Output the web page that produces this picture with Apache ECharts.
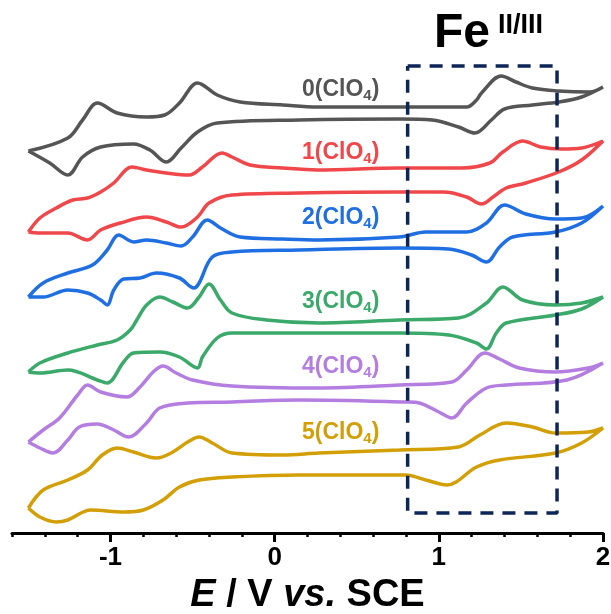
<!DOCTYPE html>
<html>
<head>
<meta charset="utf-8">
<script src="https://cdn.jsdelivr.net/npm/echarts@6/dist/echarts.min.js"></script>
<style>html,body{margin:0;padding:0;background:#fff}#c{width:611px;height:614px}</style>
</head>
<body>
<div id="c"></div>
<script>
// Potential window and ticks (V vs. SCE)
const xMin = -1.6, xMax = 2.0;
const majorTicks = [-1, 0, 1, 2];
// Compound labels
const compoundNames = ['0', '1', '2', '3', '4', '5'];
const colors = ['#555555', '#f0474a', '#1f6fe3', '#3aa96a', '#b47de0', '#d39f06'];
// Fe(II/III) box (E range, offset-current range)
const boxE = [0.81, 1.72];
const boxI = [20, 467];

// CV traces: [E (V), offset current (arb.)]
const cv0 = [[-1.50,382],[-1.26,395],[-1.17,413],[-1.08,430],[-0.96,420],[-0.78,416],[-0.67,418],[-0.58,430],[-0.47,450],[-0.35,438],[-0.21,431],[0.05,428],[0.26,426],[0.76,426],[1.17,426],[1.23,433],[1.26,440],[1.38,457],[1.47,451],[1.57,445],[1.73,442],[1.92,441],[2.00,446],
  [1.87,436],[1.73,431],[1.57,428],[1.40,424],[1.32,413],[1.22,400],[1.12,406],[0.96,413],[0.76,414],[0.15,413],[-0.35,410],[-0.47,401],[-0.57,385],[-0.66,371],[-0.76,383],[-0.86,389],[-1.06,386],[-1.17,376],[-1.26,358],[-1.37,370],[-1.50,382]];
const cv1 = [[-1.50,301],[-1.43,315],[-1.33,325],[-1.23,333],[-1.14,335],[-1.06,341],[-0.98,350],[-0.87,366],[-0.78,363],[-0.66,360],[-0.52,358],[-0.44,366],[-0.32,380],[-0.26,376],[-0.15,368],[0.05,365],[0.26,363],[0.76,365],[1.14,365],[1.31,370],[1.39,381],[1.51,392],[1.62,386],[1.75,384],[1.87,385],[2.00,392],
  [1.87,373],[1.73,361],[1.53,350],[1.41,345],[1.33,336],[1.26,329],[1.17,336],[1.03,341],[0.76,341],[0.15,340],[-0.26,338],[-0.40,330],[-0.47,316],[-0.57,306],[-0.66,311],[-0.78,316],[-0.94,310],[-1.06,303],[-1.14,293],[-1.26,300],[-1.43,300],[-1.50,301]];
const cv2 = [[-1.50,236],[-1.41,250],[-1.26,260],[-1.11,268],[-1.02,283],[-0.95,298],[-0.86,291],[-0.78,293],[-0.66,290],[-0.57,287],[-0.50,296],[-0.41,313],[-0.33,305],[-0.21,296],[0.05,294],[0.27,293],[0.76,296],[0.92,301],[1.17,301],[1.29,310],[1.40,328],[1.53,319],[1.71,314],[1.87,315],[2.00,327],
  [1.87,310],[1.71,301],[1.45,296],[1.37,286],[1.29,271],[1.20,278],[1.06,284],[0.76,285],[0.15,283],[-0.26,281],[-0.38,276],[-0.46,250],[-0.49,245],[-0.58,255],[-0.72,260],[-0.82,255],[-0.92,254],[-0.98,243],[-1.02,228],[-1.06,233],[-1.14,240],[-1.26,243],[-1.41,236],[-1.50,236]];
const cv3 = [[-1.50,161],[-1.43,170],[-1.26,180],[-1.08,188],[-0.96,193],[-0.88,203],[-0.84,213],[-0.78,228],[-0.70,236],[-0.62,231],[-0.53,225],[-0.46,236],[-0.40,249],[-0.33,233],[-0.26,220],[-0.05,213],[0.27,210],[0.76,213],[1.12,215],[1.29,230],[1.39,246],[1.51,233],[1.71,228],[1.87,230],[2.00,236],
  [1.87,224],[1.71,218],[1.41,210],[1.35,200],[1.29,184],[1.23,190],[1.06,198],[0.76,200],[0.15,200],[-0.26,200],[-0.35,195],[-0.44,176],[-0.47,165],[-0.58,176],[-0.70,181],[-0.86,180],[-0.92,171],[-1.02,150],[-1.08,153],[-1.26,163],[-1.43,160],[-1.50,161]];
const cv4 = [[-1.50,91],[-1.41,103],[-1.31,115],[-1.20,138],[-1.14,148],[-1.06,141],[-0.90,136],[-0.82,146],[-0.74,161],[-0.68,167],[-0.60,160],[-0.50,153],[-0.26,147],[0.27,145],[0.76,148],[1.08,151],[1.17,163],[1.28,180],[1.37,174],[1.49,165],[1.71,161],[1.91,165],[2.00,170],
  [1.78,153],[1.41,148],[1.29,145],[1.17,130],[1.08,115],[1.00,121],[0.88,130],[0.80,131],[0.15,133],[-0.26,131],[-0.53,130],[-0.70,125],[-0.78,110],[-0.89,96],[-0.98,103],[-1.08,109],[-1.19,106],[-1.26,93],[-1.35,80],[-1.43,85],[-1.50,91]];
const cv5 = [[-1.50,25],[-1.41,43],[-1.26,53],[-1.14,63],[-1.05,78],[-0.96,85],[-0.86,81],[-0.72,75],[-0.62,81],[-0.53,91],[-0.46,96],[-0.38,90],[-0.26,80],[0.05,78],[0.27,80],[0.76,83],[1.12,86],[1.25,98],[1.41,110],[1.57,106],[1.71,100],[1.91,101],[2.00,105],
  [1.87,90],[1.71,80],[1.37,73],[1.23,66],[1.05,48],[0.92,53],[0.80,58],[0.15,58],[-0.26,56],[-0.46,53],[-0.58,46],[-0.68,33],[-0.80,23],[-0.92,21],[-1.12,23],[-1.26,13],[-1.33,11],[-1.43,16],[-1.50,25]];
const traces = [cv0, cv1, cv2, cv3, cv4, cv5];

const FONT = "'Liberation Sans', Arial, sans-serif";
const chart = echarts.init(document.getElementById('c'), null, {renderer: 'canvas'});

const labelY = [90, 153, 218, 302, 367, 433];
const graphics = compoundNames.map((n, i) => ({
  type: 'text', x: 302, y: labelY[i],
  style: {
    text: '{m|' + n + '(ClO}{s|4}{m|)}',
    verticalAlign: 'middle', align: 'left',
    rich: {
      m: {fontSize: 23, fontWeight: 'bold', fontFamily: FONT, fill: colors[i], lineHeight: 26},
      s: {fontSize: 15, fontWeight: 'bold', fontFamily: FONT, fill: colors[i], lineHeight: 10, verticalAlign: 'bottom'}
    }
  }
}));
graphics.push({type: 'text', x: 434, y: 34, style: {text: 'Fe', font: 'bold 48px ' + FONT, fill: '#000', verticalAlign: 'middle', align: 'left'}});
graphics.push({type: 'text', x: 498, y: 26, style: {text: 'II/III', font: 'bold 27px ' + FONT, fill: '#000', verticalAlign: 'middle', align: 'left'}});

const series = traces.map((d, i) => ({
  type: 'line', data: d, xAxisIndex: 0, yAxisIndex: 0,
  smooth: 0.35, showSymbol: false, symbol: 'none', silent: true,
  lineStyle: {color: colors[i], width: 3.5}
}));
series.push({
  type: 'line', xAxisIndex: 0, yAxisIndex: 0, symbol: 'none', silent: true,
  data: [[boxE[0], boxI[1]], [boxE[1], boxI[1]], [boxE[1], boxI[0]], [boxE[0], boxI[0]], [boxE[0], boxI[1]]],
  lineStyle: {color: '#0d2557', width: 3.5, type: [13, 9]}
});

chart.setOption({
  animation: false,
  backgroundColor: '#fff',
  grid: {left: 12, right: 8, top: 0, bottom: 81, containLabel: false, outerBoundsMode: 'none'},
  xAxis: [
    {type: 'value', min: xMin, max: xMax, interval: 0.2, position: 'bottom',
     axisLine: {show: true, lineStyle: {color: '#000', width: 3}},
     axisTick: {show: true, length: 4, lineStyle: {color: '#000', width: 2.5}},
     axisLabel: {show: false}, splitLine: {show: false}},
    {type: 'value', min: xMin, max: xMax, position: 'bottom', offset: 0,
     axisLine: {show: false},
     axisTick: {show: true, customValues: majorTicks, length: 9, lineStyle: {color: '#000', width: 3}},
     axisLabel: {show: true, customValues: majorTicks, margin: 12, fontSize: 26, fontWeight: 'bold', fontFamily: FONT, color: '#000',
       formatter: v => String(v)},
     splitLine: {show: false},
     name: '{i|E}{n| / V }{i|vs.}{n| SCE}', nameLocation: 'middle', nameGap: 44,
     nameTextStyle: {rich: {
       i: {fontSize: 38, fontWeight: 'bold', fontStyle: 'italic', fontFamily: FONT, color: '#000'},
       n: {fontSize: 38, fontWeight: 'bold', fontFamily: FONT, color: '#000'}
     }}}
  ],
  yAxis: {type: 'value', min: 0, max: 533, show: false},
  series: series,
  graphic: graphics
});
</script>
</body>
</html>
